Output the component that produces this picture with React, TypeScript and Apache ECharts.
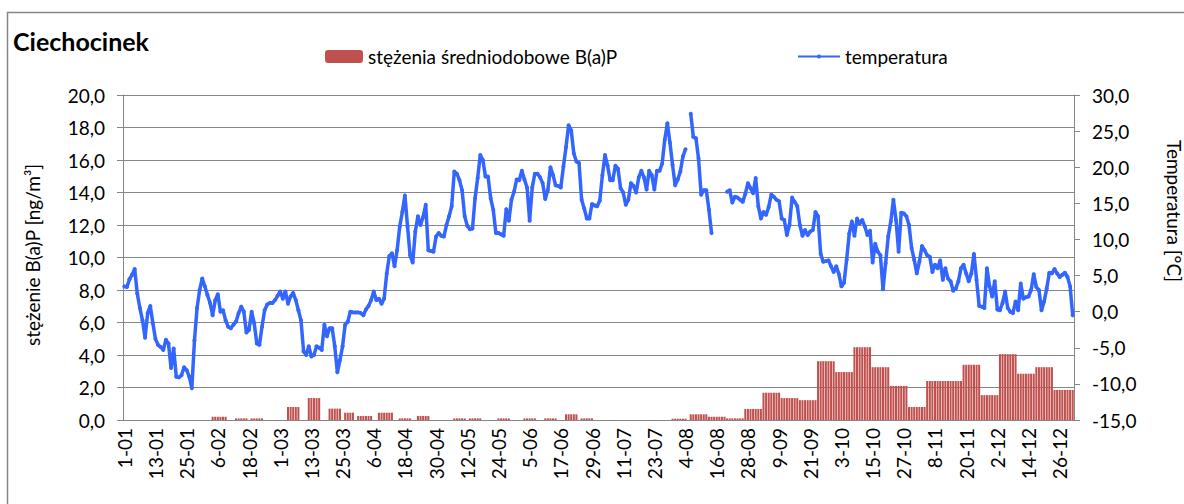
import React, { useEffect, useRef } from "react";
import * as echarts from "echarts";

// Categories: every day of a leap year (label "d-mm")
const monthLengths = [31, 29, 31, 30, 31, 30, 31, 31, 30, 31, 30, 31];
const monthCodes = ["01", "02", "03", "04", "05", "06", "07", "08", "09", "10", "11", "12"];
const days: string[] = [];
monthLengths.forEach((n, m) => {
  for (let d = 1; d <= n; d++) days.push(`${d}-${monthCodes[m]}`);
});

const seriesBapName = "stężenia średniodobowe B(a)P";
const seriesTempName = "temperatura";
const titleText = "Ciechocinek";
const leftAxisName = "stężenie B(a)P [ng/m³]";
const rightAxisName = "Temperatura [°C]";

// daily mean temperature [°C], index 0 = 1-01
const temperature: (number | null)[] = [
  3.5, 3.4, 4.5, 5.1, 5.9, 2.5, 0.5, -1.2, -3.6, -0.2,
  0.8, -1.6, -3.8, -4.6, -4.9, -5.3, -3.9, -4.4, -7.8, -5.1,
  -9.0, -9.1, -8.8, -7.7, -8.1, -9.0, -10.6, -4.0, 0.5, 3.0,
  4.6, 3.5, 2.3, 1.2, -0.5, 1.6, 2.4, 0.0, 0.2, -1.2,
  -2.1, -2.3, -1.8, -1.4, -0.2, 0.7, 0.0, -2.9, -2.5, 0.0,
  -1.6, -4.4, -4.6, -2.1, 0.2, 1.0, 1.2, 1.2, 1.6, 2.2,
  2.8, 1.8, 2.8, 1.1, 2.1, 2.6, 1.6, 0.2, -1.2, -5.5,
  -6.0, -4.8, -6.2, -6.0, -4.8, -5.0, -5.3, -1.8, -3.4, -2.3,
  -2.3, -4.8, -8.4, -6.7, -4.8, -1.8, -1.4, 0.0, -0.1, -0.1,
  -0.1, -0.2, -0.5, 0.3, 0.8, 1.6, 2.8, 1.6, 1.8, 1.1,
  1.8, 5.3, 7.7, 8.1, 6.3, 8.5, 11.8, 13.8, 16.1, 11.8,
  7.8, 6.8, 11.1, 13.2, 12.0, 13.1, 14.8, 8.5, 8.4, 8.3,
  10.4, 10.9, 10.5, 10.4, 12.0, 13.2, 14.6, 19.4, 19.1, 18.2,
  16.8, 13.2, 11.9, 11.4, 11.5, 15.7, 18.5, 21.7, 21.0, 18.7,
  18.7, 15.7, 14.1, 10.9, 10.9, 10.7, 10.5, 14.2, 12.6, 15.5,
  16.6, 18.3, 18.2, 19.5, 18.3, 17.2, 12.6, 17.2, 19.1, 19.1,
  18.6, 17.8, 15.6, 16.8, 20.0, 18.9, 17.5, 17.4, 17.2, 20.1,
  22.8, 25.8, 25.1, 21.9, 20.8, 20.6, 15.5, 14.3, 12.9, 12.9,
  14.9, 14.7, 14.6, 15.4, 18.9, 21.7, 20.2, 18.2, 18.2, 20.2,
  19.8, 17.1, 16.5, 14.8, 15.5, 17.8, 17.4, 16.5, 18.6, 19.5,
  18.6, 16.9, 19.5, 18.9, 16.9, 19.5, 19.5, 20.5, 23.8, 26.1,
  23.4, 20.3, 17.5, 18.3, 19.4, 21.5, 22.5, null, 27.4, 24.2,
  24.0, 21.2, 16.2, 16.8, 16.8, 14.1, 10.9, null, null, null,
  null, null, 16.6, 16.8, 15.1, 15.9, 15.8, 15.5, 15.2, 16.3,
  17.8, 17.1, 16.4, 18.5, 14.6, 12.9, 13.8, 13.4, 14.5, 16.2,
  15.9, 15.5, 15.3, 12.9, 12.7, 10.6, 12.0, 15.8, 15.2, 14.6,
  12.0, 10.5, 11.3, 10.6, 11.1, 11.3, 13.8, 13.2, 8.0, 6.9,
  7.0, 7.1, 6.3, 5.5, 6.3, 5.2, 3.5, 4.0, 7.2, 10.8,
  12.5, 10.5, 12.9, 12.2, 12.7, 11.8, 10.6, 11.2, 6.8, 9.4,
  8.3, 7.8, 3.1, 6.7, 10.4, 12.5, 15.5, 12.7, 8.3, 13.7,
  13.6, 13.2, 12.0, 8.8, 7.2, 5.3, 6.9, 9.1, 8.5, 7.8,
  7.6, 5.5, 6.5, 6.0, 7.1, 4.4, 6.0, 4.6, 4.2, 2.9,
  3.2, 4.2, 6.0, 6.5, 5.3, 4.2, 5.3, 8.0, 4.4, 0.8,
  0.7, 0.5, 6.0, 3.5, 2.1, 4.2, 0.3, 0.2, 1.2, 2.8,
  0.5, 0.0, -0.2, 1.4, 0.2, 3.9, 1.8, 2.0, 2.1, 3.0,
  5.2, 3.4, 3.0, 0.2, 1.4, 3.2, 5.4, 5.3, 5.9, 5.3,
  4.8, 5.1, 5.4, 4.8, 3.5, -0.5,
];

// daily B(a)P concentration [ng/m3], index 0 = 1-01
const n = null;
const bap: (number | null)[] = [
  n, n, n, n, n, n, n, n, n, n,
  n, n, n, n, n, n, n, n, n, n,
  n, n, n, n, n, n, n, n, n, n,
  n, n, n, n, 0.2, 0.2, 0.2, 0.2, 0.2, 0.2,
  n, n, n, 0.1, 0.1, 0.1, 0.1, 0.1, n, 0.1,
  0.1, 0.1, 0.1, 0.1, n, n, n, n, n, n,
  n, n, n, 0.8, 0.8, 0.8, 0.8, 0.8, n, n,
  n, 1.35, 1.35, 1.35, 1.35, 1.35, n, n, n, 0.7,
  0.7, 0.7, 0.7, 0.7, n, 0.45, 0.45, 0.45, 0.45, n,
  0.25, 0.25, 0.25, 0.25, 0.25, 0.25, n, n, 0.45, 0.45,
  0.45, 0.45, 0.45, 0.45, n, n, 0.1, 0.1, 0.1, 0.1,
  0.1, n, n, 0.25, 0.25, 0.25, 0.25, 0.25, n, n,
  n, n, n, n, n, n, n, 0.1, 0.1, 0.1,
  0.1, 0.1, n, 0.1, 0.1, 0.1, 0.1, 0.1, n, n,
  n, n, n, n, 0.1, 0.1, 0.1, 0.1, 0.1, n,
  n, n, n, n, 0.1, 0.1, 0.1, 0.1, 0.1, n,
  n, n, 0.1, 0.1, 0.1, 0.1, 0.1, n, n, n,
  0.35, 0.35, 0.35, 0.35, 0.35, n, 0.1, 0.1, 0.1, 0.1,
  0.1, n, n, n, n, n, n, n, n, n,
  n, n, n, n, n, n, n, n, n, n,
  n, n, n, n, n, n, n, n, n, n,
  n, 0.08, 0.08, 0.08, 0.08, 0.08, 0.08, n, 0.35, 0.35,
  0.35, 0.35, 0.35, 0.35, 0.35, 0.2, 0.2, 0.2, 0.2, 0.2,
  0.2, 0.2, 0.1, 0.1, 0.1, 0.1, 0.1, 0.1, 0.1, 0.68,
  0.68, 0.68, 0.68, 0.68, 0.68, 0.68, 1.68, 1.68, 1.68, 1.68,
  1.68, 1.68, 1.68, 1.35, 1.35, 1.35, 1.35, 1.35, 1.35, 1.35,
  1.22, 1.22, 1.22, 1.22, 1.22, 1.22, 1.22, 3.62, 3.62, 3.62,
  3.62, 3.62, 3.62, 3.62, 2.95, 2.95, 2.95, 2.95, 2.95, 2.95,
  2.95, 4.48, 4.48, 4.48, 4.48, 4.48, 4.48, 4.48, 3.25, 3.25,
  3.25, 3.25, 3.25, 3.25, 3.25, 2.1, 2.1, 2.1, 2.1, 2.1,
  2.1, 2.1, 0.8, 0.8, 0.8, 0.8, 0.8, 0.8, 0.8, 2.4,
  2.4, 2.4, 2.4, 2.4, 2.4, 2.4, 2.4, 2.4, 2.4, 2.4,
  2.4, 2.4, 2.4, 3.4, 3.4, 3.4, 3.4, 3.4, 3.4, 3.4,
  1.53, 1.53, 1.53, 1.53, 1.53, 1.53, 1.53, 4.05, 4.05, 4.05,
  4.05, 4.05, 4.05, 4.05, 2.85, 2.85, 2.85, 2.85, 2.85, 2.85,
  2.85, 3.25, 3.25, 3.25, 3.25, 3.25, 3.25, 3.25, 1.85, 1.85,
  1.85, 1.85, 1.85, 1.85, 1.85, 1.85,
];

const fmt = (v: number) => v.toFixed(1).replace(".", ",");
const FONT = "Lato";
const GREY = "#868686";
const BLUE = "#3366ff";

export default function App() {
  const ref = useRef<HTMLDivElement>(null);
  useEffect(() => {
    if (!ref.current) return;
    const chart = echarts.init(ref.current, undefined, { renderer: "svg" });
    chart.setOption({
      animation: false,
      textStyle: { fontFamily: FONT, color: "#000" },
      title: {
        text: titleText,
        left: 8,
        top: 23,
        textStyle: { fontFamily: FONT, fontWeight: "bold", fontSize: 25, color: "#000" },
      },
      legend: [
        {
          data: [seriesBapName],
          left: 320,
          top: 42,
          itemWidth: 38,
          itemHeight: 13,
          itemGap: 5,
          textStyle: { fontFamily: FONT, fontSize: 19, color: "#000" },
        },
        {
          data: [seriesTempName],
          left: 792,
          top: 42,
          itemWidth: 42,
          itemHeight: 5,
          textStyle: { fontFamily: FONT, fontSize: 19, color: "#000" },
        },
      ],
      grid: { left: 123, right: 110, top: 95, bottom: 84 },
      xAxis: {
        type: "category",
        data: days,
        boundaryGap: true,
        axisLine: { lineStyle: { color: GREY } },
        axisTick: { interval: 11, length: 6, lineStyle: { color: GREY } },
        axisLabel: { interval: 11, rotate: 90, fontSize: 19, color: "#000", margin: 8, fontFamily: FONT },
      },
      yAxis: [
        {
          type: "value",
          min: 0,
          max: 20,
          interval: 2,
          axisLine: { show: true, lineStyle: { color: GREY } },
          axisTick: { show: true, length: 6, lineStyle: { color: GREY } },
          axisLabel: { formatter: fmt, fontSize: 19, color: "#000", margin: 18, fontFamily: FONT },
          splitLine: { show: true, lineStyle: { color: GREY, width: 1 } },
        },
        {
          type: "value",
          position: "right",
          min: -15,
          max: 30,
          interval: 5,
          axisLine: { show: true, lineStyle: { color: GREY } },
          axisTick: { show: true, length: 6, lineStyle: { color: GREY } },
          axisLabel: { formatter: fmt, fontSize: 19, color: "#000", margin: 18, fontFamily: FONT },
          splitLine: { show: false },
        },
      ],
      series: [
        {
          name: seriesBapName,
          type: "bar",
          yAxisIndex: 0,
          data: bap,
          barCategoryGap: "22%",
          itemStyle: { color: "#C0504D" },
        },
        {
          name: seriesTempName,
          type: "line",
          yAxisIndex: 1,
          data: temperature,
          connectNulls: false,
          symbol: "circle",
          symbolSize: 4,
          showAllSymbol: true,
          lineStyle: { color: BLUE, width: 3.5 },
          itemStyle: { color: BLUE },
        },
      ],
      graphic: [
        {
          type: "rect",
          shape: { x: 7.5, y: 12.5, width: 1200, height: 520 },
          style: { fill: "none", stroke: GREY, lineWidth: 1.5 },
          silent: true,
        },
        {
          type: "text",
          x: 32,
          y: 255,
          rotation: Math.PI / 2,
          style: {
            text: leftAxisName,
            fontFamily: FONT,
            fontSize: 19,
            fill: "#000",
            align: "center",
            verticalAlign: "middle",
          },
        },
        {
          type: "text",
          x: 1174,
          y: 211,
          rotation: -Math.PI / 2,
          style: {
            text: rightAxisName,
            fontFamily: FONT,
            fontSize: 19,
            fill: "#000",
            align: "center",
            verticalAlign: "middle",
          },
        },
      ],
    });
    return () => chart.dispose();
  }, []);
  return (
    <div
      ref={ref}
      style={{ position: "fixed", left: 0, top: 0, width: 1184, height: 504, background: "#fff" }}
    />
  );
}
